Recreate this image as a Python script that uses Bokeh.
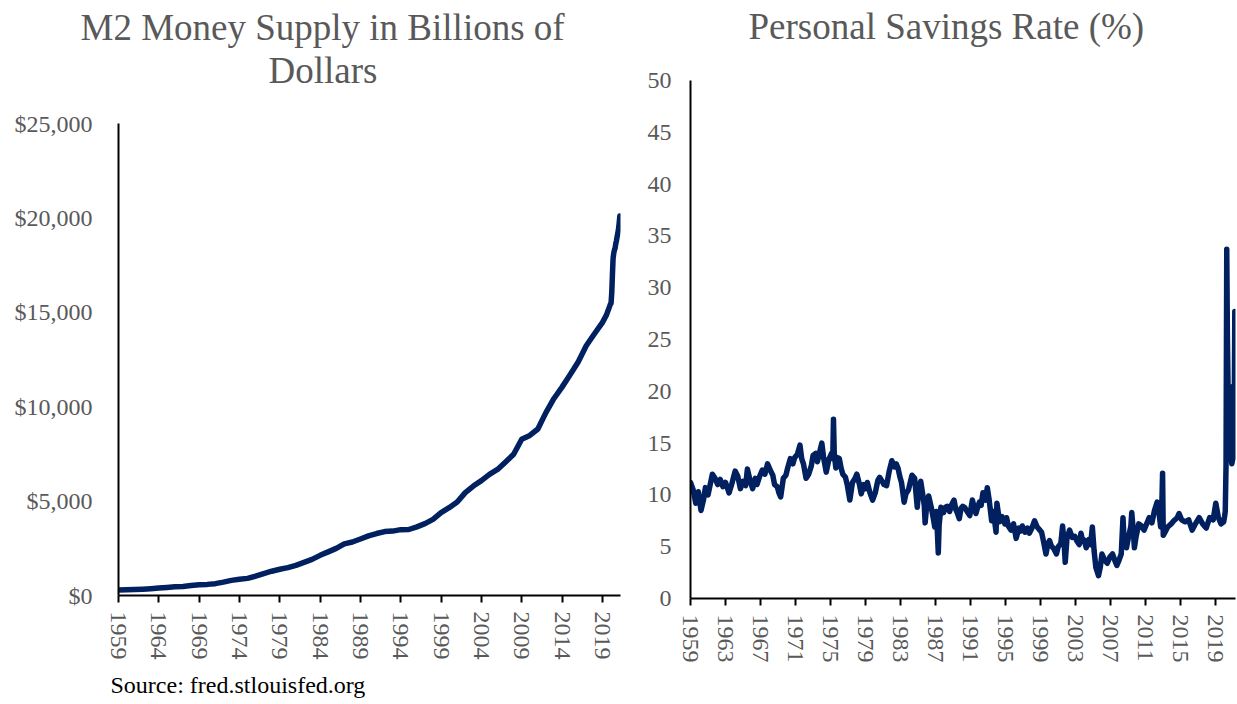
from bokeh.plotting import figure
from bokeh.models import FixedTicker, NumeralTickFormatter, Range1d, Title
from bokeh.layouts import row
from bokeh.embed import file_html
from bokeh.resources import INLINE

# ---------------- data ----------------
m2_year = [1959, 1960, 1961, 1962, 1963, 1964, 1965, 1966, 1967, 1968, 1969,
           1970, 1971, 1972, 1973, 1974, 1975, 1976, 1977, 1978, 1979,
           1980, 1981, 1982, 1983, 1984, 1985, 1986, 1987, 1988, 1989,
           1990, 1991, 1992, 1993, 1994, 1995, 1996, 1997, 1998, 1999,
           2000, 2001, 2002, 2003, 2004, 2005, 2006, 2007, 2008, 2009,
           2010, 2011, 2012, 2013, 2014, 2015, 2016, 2017, 2018, 2019,
           2019.5, 2020.0, 2020.08, 2020.17, 2020.25, 2020.33, 2020.42, 2020.5,
           2020.58, 2020.67, 2020.75, 2020.83, 2020.92, 2021.0, 2021.08, 2021.17]
m2_value = [287, 298, 312, 335, 363, 393, 424, 460, 480, 525, 567,
            589, 628, 710, 802, 857, 908, 1023, 1164, 1287, 1389,
            1474, 1600, 1756, 1911, 2127, 2311, 2497, 2735, 2833, 2992,
            3159, 3283, 3387, 3412, 3489, 3495, 3637, 3804, 4036, 4391,
            4652, 4951, 5450, 5797, 6084, 6417, 6678, 7076, 7482, 8280,
            8478, 8819, 9688, 10436, 11037, 11689, 12368, 13229, 13848, 14455,
            14850, 15434, 15480, 16070, 17000, 17850, 18150, 18300,
            18400, 18650, 18800, 19000, 19200, 19400, 19700, 20100]

sav_year = [1959.0, 1959.3, 1959.6, 1959.9, 1960.2, 1960.5, 1960.7, 1961.0, 1961.3, 1961.5,
            1961.8, 1962.1, 1962.4, 1962.7, 1963.0, 1963.4, 1963.7, 1964.1, 1964.4, 1964.7,
            1965.0, 1965.3, 1965.5, 1965.8, 1966.1, 1966.4, 1966.6, 1966.9, 1967.2, 1967.5,
            1967.8, 1968.1, 1968.4, 1968.6, 1968.9, 1969.1, 1969.3, 1969.6, 1969.9, 1970.1,
            1970.4, 1970.7, 1970.9, 1971.2, 1971.5, 1971.7, 1971.9, 1972.2, 1972.5, 1972.8,
            1973.0, 1973.3, 1973.5, 1973.8, 1974.0, 1974.2, 1974.5, 1974.8, 1975.1, 1975.25,
            1975.33, 1975.42, 1975.6, 1975.8, 1976.0, 1976.2, 1976.4, 1976.7, 1976.9, 1977.2,
            1977.5, 1977.8, 1978.0, 1978.3, 1978.5, 1978.8, 1979.0, 1979.2, 1979.5, 1979.8,
            1980.1, 1980.4, 1980.6, 1980.9, 1981.1, 1981.4, 1981.7, 1982.0, 1982.3, 1982.5,
            1982.7, 1982.9, 1983.1, 1983.4, 1983.6, 1983.9, 1984.1, 1984.3, 1984.6, 1984.9,
            1985.1, 1985.3, 1985.5, 1985.7, 1985.8, 1986.0, 1986.2, 1986.5, 1986.7, 1986.9,
            1987.1, 1987.3, 1987.4, 1987.6, 1987.9, 1988.1, 1988.3, 1988.6, 1988.8, 1989.1,
            1989.3, 1989.5, 1989.7, 1989.9, 1990.1, 1990.3, 1990.6, 1990.9, 1991.2, 1991.4,
            1991.6, 1991.8, 1992.0, 1992.2, 1992.4, 1992.7, 1992.9, 1993.1, 1993.4, 1993.6,
            1993.9, 1994.0, 1994.3, 1994.6, 1994.9, 1995.1, 1995.3, 1995.6, 1995.9, 1996.2,
            1996.5, 1996.7, 1996.9, 1997.2, 1997.5, 1997.7, 1998.0, 1998.3, 1998.6, 1998.9,
            1999.1, 1999.3, 1999.6, 1999.8, 2000.0, 2000.2, 2000.5, 2000.8, 2001.0, 2001.3,
            2001.5, 2001.7, 2001.8, 2002.0, 2002.3, 2002.6, 2002.9, 2003.1, 2003.4, 2003.6,
            2003.8, 2004.0, 2004.2, 2004.5, 2004.7, 2004.9, 2005.1, 2005.3, 2005.6, 2005.8,
            2006.0, 2006.3, 2006.6, 2006.9, 2007.2, 2007.5, 2007.7, 2007.9, 2008.2, 2008.4,
            2008.5, 2008.8, 2009.0, 2009.3, 2009.4, 2009.6, 2009.7, 2009.9, 2010.2, 2010.5,
            2010.8, 2011.1, 2011.4, 2011.7, 2012.0, 2012.3, 2012.5, 2012.7, 2012.83, 2012.92,
            2013.0, 2013.2, 2013.5, 2013.9, 2014.2, 2014.6, 2014.8, 2015.1, 2015.5, 2015.9,
            2016.3, 2016.6, 2017.1, 2017.5, 2017.9, 2018.3, 2018.7, 2019.0, 2019.3, 2019.6,
            2019.9, 2020.0, 2020.08, 2020.17, 2020.25, 2020.33, 2020.42, 2020.5, 2020.58, 2020.67,
            2020.75, 2020.83, 2020.92, 2021.0, 2021.08, 2021.17]
sav_rate = [11.2, 10.5, 9.2, 10.3, 8.5, 9.6, 10.7, 10.0, 11.2, 12.0,
            11.6, 11.0, 11.5, 10.8, 11.2, 10.2, 11.0, 12.3, 11.8, 10.6,
            11.3, 10.9, 12.5, 11.4, 10.6, 11.6, 11.0, 11.8, 12.4, 12.0,
            13.0, 12.4, 11.9, 11.0, 10.8, 10.2, 9.8, 11.6, 11.9, 12.6,
            13.5, 13.0, 13.6, 13.9, 14.8, 13.5, 13.0, 11.6, 12.0, 12.8,
            13.8, 14.0, 13.2, 14.3, 15.0, 13.6, 12.2, 13.4, 14.0, 13.5,
            17.3, 14.0, 12.6, 13.6, 13.5, 12.6, 12.0, 11.7, 11.0, 9.5,
            11.2, 11.6, 12.0, 11.0, 10.1, 11.0, 10.6, 11.2, 10.2, 9.5,
            10.2, 11.4, 11.7, 11.3, 11.0, 10.9, 12.3, 13.3, 12.7, 13.0,
            12.6, 11.8, 11.2, 9.3, 10.1, 10.5, 11.2, 11.9, 11.6, 8.8,
            10.8, 11.3, 10.2, 9.0, 7.3, 9.2, 9.9, 8.8, 7.9, 6.9,
            8.4, 4.4, 7.1, 8.8, 8.3, 8.8, 8.9, 8.4, 9.0, 9.5,
            8.6, 8.2, 7.7, 8.7, 8.9, 8.8, 8.4, 8.0, 9.5, 8.8,
            8.2, 8.8, 9.3, 9.0, 10.2, 9.5, 10.7, 9.6, 7.5, 8.4,
            6.4, 9.2, 7.4, 7.9, 7.2, 7.8, 7.0, 6.6, 7.2, 5.8,
            6.8, 6.5, 7.0, 6.4, 6.8, 6.3, 6.8, 7.5, 6.9, 6.6,
            6.4, 5.6, 4.3, 5.2, 5.6, 5.1, 4.8, 4.3, 5.0, 5.3,
            7.0, 5.0, 3.5, 5.8, 6.6, 5.9, 6.0, 5.6, 5.2, 6.3,
            5.5, 5.6, 4.9, 5.7, 5.2, 6.9, 4.6, 3.0, 2.2, 3.0,
            4.3, 3.7, 3.4, 4.0, 4.3, 3.6, 3.2, 3.6, 4.3, 7.8,
            6.0, 4.9, 5.8, 7.0, 8.3, 6.3, 4.9, 6.0, 7.2, 7.0,
            6.6, 7.2, 7.8, 7.3, 8.5, 9.3, 8.4, 6.9, 8.8, 12.1,
            6.1, 6.4, 6.9, 7.2, 7.5, 7.8, 8.2, 7.6, 7.4, 7.6,
            6.6, 7.1, 7.8, 7.2, 6.8, 7.8, 7.6, 9.2, 7.8, 7.2,
            7.4, 7.9, 8.4, 12.9, 33.7, 24.8, 19.0, 17.8, 14.1, 14.3,
            13.6, 13.0, 13.4, 20.5, 13.6, 27.7]

m2_xticks = [1959, 1964, 1969, 1974, 1979, 1984, 1989, 1994, 1999, 2004, 2009, 2014, 2019]
sav_xticks = [1959, 1963, 1967, 1971, 1975, 1979, 1983, 1987, 1991, 1995, 1999, 2003, 2007, 2011, 2015, 2019]
m2_yticks = [0, 5000, 10000, 15000, 20000, 25000]
sav_yticks = [0, 5, 10, 15, 20, 25, 30, 35, 40, 45, 50]

FONT = "Liberation Serif"
GRAY = "#595959"
NAVY = "#002060"


def style(p, xticks, yticks, ystandoff):
    p.outline_line_color = None
    p.xgrid.visible = False
    p.ygrid.visible = False
    p.background_fill_color = "white"
    p.border_fill_color = "white"
    for ax in (p.xaxis[0], p.yaxis[0]):
        ax.axis_line_color = "black"
        ax.axis_line_width = 2
        ax.major_label_text_font = FONT
        ax.major_label_text_font_size = "24px"
        ax.major_label_text_color = GRAY
        ax.minor_tick_out = 0
        ax.minor_tick_in = 0
        ax.major_tick_in = 0
        ax.major_tick_line_color = "black"
        ax.major_tick_line_width = 2
    p.xaxis[0].ticker = FixedTicker(ticks=xticks)
    p.xaxis[0].major_label_orientation = "vertical"
    p.xaxis[0].major_tick_out = 7
    p.xaxis[0].major_label_standoff = 9
    p.yaxis[0].ticker = FixedTicker(ticks=yticks)
    p.yaxis[0].major_tick_out = 0
    p.yaxis[0].major_label_standoff = ystandoff


def title(text, size, offset, standoff, color=GRAY):
    return Title(text=text, align="left", offset=offset, standoff=standoff,
                 text_font=FONT, text_font_size=size, text_font_style="normal",
                 text_color=color)


# ---------------- left: M2 ----------------
p1 = figure(width=640, height=704, output_backend="svg", toolbar_location=None,
            x_range=Range1d(1959, 2021.25), y_range=Range1d(0, 25000), frame_align=False,
            min_border_left=118, min_border_right=20, min_border_top=123, min_border_bottom=107)
style(p1, m2_xticks, m2_yticks, 26)
p1.yaxis[0].formatter = NumeralTickFormatter(format="$0,0")
p1.line(m2_year, m2_value, line_color=NAVY, line_width=5.5, line_join="round", line_cap="round")

p1.add_layout(title(" ", "1px", 0, 30), "above")          # spacing above the frame
p1.add_layout(title("Dollars", "37px", 150, 0), "above")
p1.add_layout(title("M2 Money Supply in Billions of", "37px", -38, 0), "above")
p1.add_layout(title("Source: fred.stlouisfed.org", "24px", -8, 14, color="black"), "below")

# ---------------- right: savings rate ----------------
p2 = figure(width=597, height=704, output_backend="svg", toolbar_location=None,
            x_range=Range1d(1959, 2021.25), y_range=Range1d(0, 50), frame_align=False,
            min_border_left=50, min_border_right=2, min_border_top=80, min_border_bottom=106)
style(p2, sav_xticks, sav_yticks, 19)
p2.line(sav_year, sav_rate, line_color=NAVY, line_width=5.5, line_join="round", line_cap="round")

p2.add_layout(title(" ", "1px", 0, 31), "above")          # spacing above the frame
p2.add_layout(title("Personal Savings Rate (%)", "37px", 58, 0), "above")

layout = row(p1, p2)
open("out.html", "w").write(file_html(layout, INLINE))
